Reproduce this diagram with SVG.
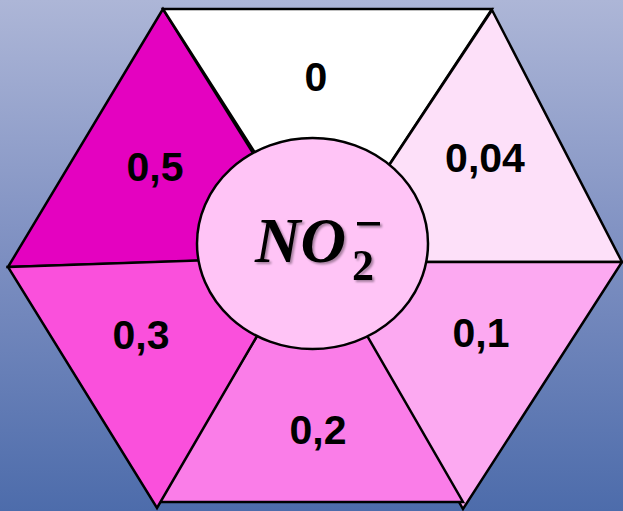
<svg xmlns="http://www.w3.org/2000/svg" width="623" height="511" viewBox="0 0 623 511">
<defs>
<linearGradient id="bg" x1="0" y1="0" x2="0" y2="1">
<stop offset="0" stop-color="#adb6d7"/>
<stop offset="0.5" stop-color="#7d8fc1"/>
<stop offset="1" stop-color="#4d6cab"/>
</linearGradient>
<filter id="sh" x="-10%" y="-10%" width="130%" height="130%">
<feDropShadow dx="2" dy="2" stdDeviation="1.2" flood-color="#000" flood-opacity="0.35"/>
</filter>
</defs>
<style>
.tri{stroke:#000;stroke-width:2.5;stroke-linejoin:miter}
.lbl{font-family:"Liberation Sans",Arial,sans-serif;font-weight:bold;font-size:41px;fill:#000;text-anchor:middle}
.chem{font-family:"Liberation Serif","DejaVu Serif",serif;font-weight:bold;fill:#000}
</style>
<rect x="0" y="0" width="623" height="511" fill="url(#bg)"/>
<g id="seg-0.5">
<polygon class="tri" points="163,9 8,267 318,257" fill="#e402c0"/>
<text class="lbl" x="155" y="181">0,5</text>
</g>
<g id="seg-0">
<polygon class="tri" points="163,9 492,9 325,262" fill="#ffffff"/>
<text class="lbl" x="316" y="91">0</text>
</g>
<g id="seg-0.04">
<polygon class="tri" points="492,10 622,262 325,262" fill="#fde0f9"/>
<text class="lbl" x="485" y="172">0,04</text>
</g>
<g id="seg-0.1">
<polygon class="tri" points="324,262 622,262 463,509" fill="#fca9f1"/>
<text class="lbl" x="481" y="347">0,1</text>
</g>
<g id="seg-0.2">
<polygon class="tri" points="158,502 463,502 313,242" fill="#fa7de8"/>
<text class="lbl" x="318" y="444">0,2</text>
</g>
<g id="seg-0.3">
<polygon class="tri" points="8,267 303,257 157,508" fill="#fa50dc"/>
<text class="lbl" x="141" y="349">0,3</text>
</g>
<g id="center">
<ellipse class="tri" cx="312.5" cy="243.5" rx="115.5" ry="105.5" fill="#ffc4f6"/>
<g filter="url(#sh)">
<text class="chem" x="255" y="262" font-size="63" font-style="italic">NO</text>
<text class="chem" x="352" y="280" font-size="44">2</text>
<rect x="357" y="222" width="23" height="3.5" fill="#000"/>
</g>
</g>
</svg>
